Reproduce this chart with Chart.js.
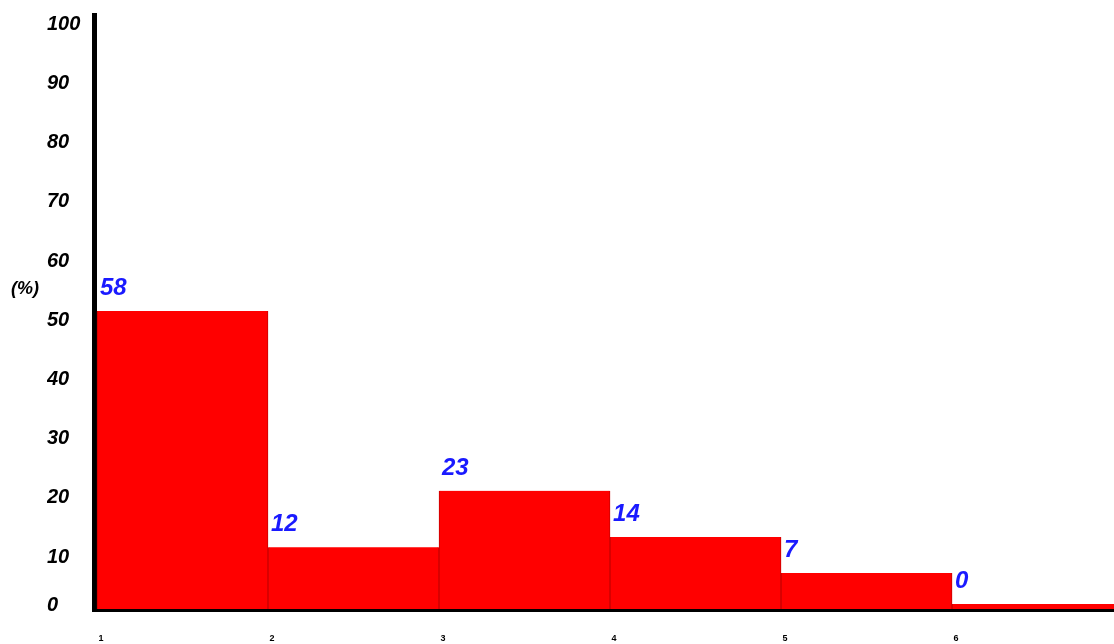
<!DOCTYPE html>
<html>
<head>
<meta charset="utf-8">
<script src="https://cdn.jsdelivr.net/npm/chart.js@4.4.0/dist/chart.umd.min.js"></script>
<style>
    html, body { margin: 0; padding: 0; background: #ffffff; }
    #chart { display: block; }
</style>
</head>
<body>
<canvas id="chart" width="1114" height="644"></canvas>
<script>
const classes = [1, 2, 3, 4, 5, 6];
const percentages = [58, 12, 23, 14, 7, 0];
const yTickLabels = ['0', '10', '20', '30', '40', '50', '60', '70', '80', '90', '100'];
const unitLabel = '(%)';

// the printed scale runs at its own spacing, not in bar units
const yLabelStep = 11.52;
const yLabelShift = -1.4;

const labelFont = "'Liberation Sans', Arial, sans-serif";

const valueLabels = {
    id: 'valueLabels',
    afterDatasetsDraw(chart) {
        const ctx = chart.ctx;
        const meta = chart.getDatasetMeta(0);
        ctx.save();
        ctx.font = `italic bold 24px ${labelFont}`;
        ctx.fillStyle = '#1a1aff';
        ctx.textAlign = 'left';
        ctx.textBaseline = 'alphabetic';
        meta.data.forEach((bar, i) => {
            const left = bar.x - bar.width / 2;
            ctx.fillText(String(percentages[i]), left + 3, bar.y - 16);
        });
        ctx.restore();
    }
};

const unitText = {
    id: 'unitText',
    afterDraw(chart) {
        const ctx = chart.ctx;
        ctx.save();
        ctx.font = `italic bold 18px ${labelFont}`;
        ctx.fillStyle = '#000';
        ctx.textAlign = 'left';
        ctx.textBaseline = 'middle';
        ctx.fillText(unitLabel, 11, 289);
        ctx.restore();
    }
};

new Chart(document.getElementById('chart'), {
    type: 'bar',
    data: {
        datasets: [{
            data: classes.map((c, i) => ({ x: c + 0.5, y: percentages[i] })),
            backgroundColor: '#ff0000',
            borderColor: '#c80000',
            borderWidth: { left: 1, right: 1, top: 0, bottom: 0 },
            borderSkipped: false,
            barPercentage: 1,
            categoryPercentage: 1,
            minBarLength: 5
        }]
    },
    options: {
        responsive: false,
        animation: false,
        devicePixelRatio: 1,
        layout: { padding: { left: 47, top: 15, right: 0, bottom: 0 } },
        plugins: {
            legend: { display: false },
            tooltip: { enabled: false }
        },
        scales: {
            x: {
                type: 'linear',
                offset: false,
                min: 0.9825,
                max: 6.947,
                z: 1,
                grid: { display: false },
                border: { display: true, color: '#000', width: 5 },
                afterBuildTicks: scale => { scale.ticks = classes.map(c => ({ value: c })); },
                afterFit: scale => { scale.height = 35; },
                ticks: {
                    color: '#000',
                    font: { family: labelFont, size: 9, weight: 'bold' },
                    padding: 16,
                    labelOffset: 4,
                    maxRotation: 0,
                    callback: v => String(v)
                }
            },
            y: {
                min: 0,
                max: 115.6,
                z: 1,
                grid: { display: false },
                border: { display: true, color: '#000', width: 5 },
                afterBuildTicks: scale => {
                    scale.ticks = yTickLabels.map((t, i) => ({ value: Math.max(0.6, i * yLabelStep + yLabelShift) }));
                },
                afterFit: scale => { scale.width = 47; },
                ticks: {
                    color: '#000',
                    crossAlign: 'far',
                    font: { family: labelFont, size: 20, weight: 'bold', style: 'italic' },
                    callback: (v, i) => yTickLabels[i]
                }
            }
        }
    },
    plugins: [valueLabels, unitText]
});
</script>
</body>
</html>
